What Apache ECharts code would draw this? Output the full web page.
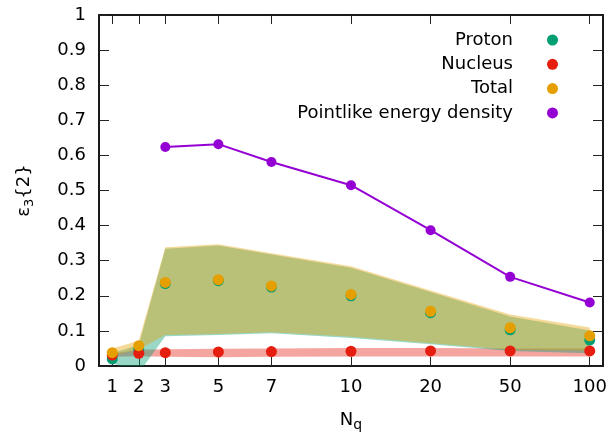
<!DOCTYPE html>
<html>
<head>
<meta charset="utf-8">
<script src="https://cdn.jsdelivr.net/npm/echarts@6/dist/echarts.min.js"></script>
<style>
  html, body { margin: 0; padding: 0; background: #ffffff; }
  #chart { width: 616px; height: 437px; }
</style>
</head>
<body>
<div id="chart"></div>
<script>
// Number of quark hot spots N_q
const nq = [1, 2, 3, 5, 7, 10, 20, 50, 100];

// epsilon_3{2} means
const protonMean  = [0.020, 0.047, 0.235, 0.243, 0.225, 0.200, 0.152, 0.103, 0.074];
const nucleusMean = [0.031, 0.036, 0.038, 0.040, 0.041, 0.042, 0.043, 0.043, 0.043];
const totalMean   = [0.038, 0.058, 0.238, 0.246, 0.228, 0.204, 0.156, 0.109, 0.086];
const pointlike   = [null, null, 0.624, 0.632, 0.581, 0.515, 0.387, 0.254, 0.181];

// Uncertainty bands (lower / upper edges)
const protonLow   = [0.008, -0.020, 0.085, 0.088, 0.093, 0.080, 0.062, 0.043, 0.036];
const protonHigh  = [0.036, 0.060, 0.334, 0.343, 0.318, 0.280, 0.211, 0.141, 0.101];
const totalLow    = [0.030, 0.046, 0.088, 0.091, 0.096, 0.083, 0.065, 0.046, 0.044];
const totalHigh   = [0.050, 0.072, 0.338, 0.347, 0.321, 0.284, 0.215, 0.147, 0.110];
const nucleusLow  = [0.026, 0.028, 0.026, 0.025, 0.026, 0.027, 0.027, 0.027, 0.027];
const nucleusHigh = [0.035, 0.046, 0.048, 0.049, 0.050, 0.051, 0.051, 0.050, 0.050];

// x scale: linear up to 10, then equal steps for the large N_q values
const wideSteps = [20, 50, 100];
function axisPos(n) {
  return n <= 10 ? n : 10 + 3 * (wideSteps.indexOf(n) + 1);
}
const tickPos = nq.map(axisPos);
function tickText(v) {
  const i = tickPos.indexOf(v);
  return i >= 0 ? String(nq[i]) : '';
}

const FONT = 'DejaVu Sans';
const FS = 18;

function pairs(values) {
  const out = [];
  values.forEach((v, i) => { if (v !== null) out.push([axisPos(nq[i]), v]); });
  return out;
}

function bandSeries(name, low, high, color) {
  return {
    name: name,
    type: 'custom',
    silent: true,
    data: [0],
    renderItem: function (params, api) {
      const pts = [];
      for (let i = 0; i < nq.length; i++) pts.push(api.coord([axisPos(nq[i]), high[i]]));
      for (let i = nq.length - 1; i >= 0; i--) pts.push(api.coord([axisPos(nq[i]), low[i]]));
      const cs = params.coordSys;
      return {
        type: 'group',
        children: [{
          type: 'polygon',
          shape: { points: pts },
          style: { fill: color, stroke: null }
        }],
        clipPath: { type: 'rect', shape: { x: cs.x, y: cs.y, width: cs.width, height: cs.height } }
      };
    }
  };
}

function xAxisDef(pos) {
  const bottom = pos === 'bottom';
  return {
    type: 'value',
    position: pos,
    min: 0.5,
    max: 19.5,
    axisLine: { show: true, onZero: false, lineStyle: { color: '#1a1a1a', width: 2 } },
    axisTick: { show: true, inside: true, length: 9, customValues: tickPos, lineStyle: { color: '#222', width: 1 } },
    axisLabel: {
      show: bottom, customValues: tickPos, formatter: tickText,
      fontFamily: FONT, fontSize: FS, color: '#000', margin: 12
    },
    splitLine: { show: false },
    name: bottom ? '{n|N}{s|q}' : '',
    nameLocation: 'middle',
    nameGap: 42,
    nameTextStyle: {
      fontFamily: FONT, fontSize: FS, color: '#000',
      rich: {
        n: { fontFamily: FONT, fontSize: FS, color: '#000', lineHeight: 24 },
        s: { fontFamily: FONT, fontSize: 14, color: '#000', lineHeight: 24, verticalAlign: 'bottom' }
      }
    }
  };
}

function yAxisDef(pos) {
  const left = pos === 'left';
  return {
    type: 'value',
    position: pos,
    min: 0,
    max: 1,
    interval: 0.1,
    axisLine: { show: true, onZero: false, lineStyle: { color: '#1a1a1a', width: 2 } },
    axisTick: { show: true, inside: true, length: 10, lineStyle: { color: '#222', width: 1 } },
    axisLabel: { show: left, fontFamily: FONT, fontSize: FS, color: '#000', margin: 13 },
    splitLine: { show: false },
    name: left ? '{e|ε}{s|3}{e|\u007B2\u007D}' : '',
    nameLocation: 'middle',
    nameRotate: 90,
    nameGap: 63,
    nameTextStyle: {
      fontFamily: FONT, fontSize: FS, color: '#000',
      rich: {
        e: { fontFamily: FONT, fontSize: FS, color: '#000', lineHeight: 24 },
        s: { fontFamily: FONT, fontSize: 13, color: '#000', lineHeight: 24, verticalAlign: 'bottom' }
      }
    }
  };
}

const chart = echarts.init(document.getElementById('chart'), null, { renderer: 'canvas' });

chart.setOption({
  animation: false,
  backgroundColor: '#ffffff',
  grid: { left: 99, right: 13, top: 15, bottom: 67, containLabel: false },
  xAxis: [xAxisDef('bottom'), xAxisDef('top')],
  yAxis: [yAxisDef('left'), yAxisDef('right')],
  legend: {
    data: ['Proton', 'Nucleus', 'Total', 'Pointlike energy density'],
    orient: 'vertical',
    align: 'right',
    right: 58,
    top: 30,
    padding: 0,
    itemGap: 4.3,
    itemWidth: 11,
    itemHeight: 11,
    icon: 'circle',
    selectedMode: false,
    textStyle: { fontFamily: FONT, fontSize: FS, color: '#000', lineHeight: 20, padding: [0, 29, 0, 0] }
  },
  series: [
    bandSeries('Nucleus band', nucleusLow, nucleusHigh, 'rgba(229,30,16,0.4)'),
    bandSeries('Proton band', protonLow, protonHigh, 'rgba(0,158,115,0.4)'),
    bandSeries('Total band', totalLow, totalHigh, 'rgba(230,159,0,0.4)'),
    {
      name: 'Proton', type: 'scatter', symbol: 'circle', symbolSize: 11,
      itemStyle: { color: '#009e73', opacity: 1 }, data: pairs(protonMean)
    },
    {
      name: 'Nucleus', type: 'scatter', symbol: 'circle', symbolSize: 11,
      itemStyle: { color: '#e51e10', opacity: 1 }, data: pairs(nucleusMean)
    },
    {
      name: 'Total', type: 'scatter', symbol: 'circle', symbolSize: 11,
      itemStyle: { color: '#e69f00', opacity: 1 }, data: pairs(totalMean)
    },
    {
      name: 'Pointlike energy density', type: 'line', symbol: 'circle', symbolSize: 10,
      showSymbol: true,
      lineStyle: { color: '#9400d3', width: 2 },
      itemStyle: { color: '#9400d3', opacity: 1 },
      data: pairs(pointlike)
    }
  ]
});
</script>
</body>
</html>
